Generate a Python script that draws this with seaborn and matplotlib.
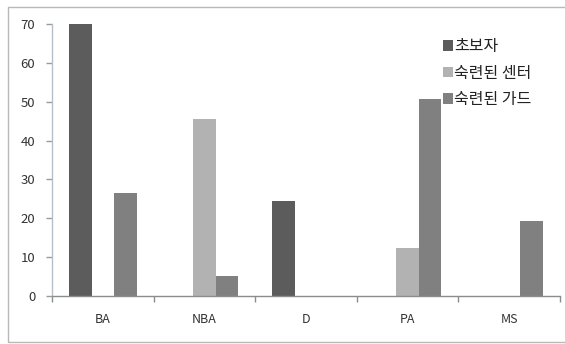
import matplotlib
matplotlib.use("Agg")
import matplotlib.pyplot as plt
from matplotlib.patches import Rectangle
from matplotlib.ticker import FixedLocator
import pandas as pd
import seaborn as sns

categories = ["BA", "NBA", "D", "PA", "MS"]
series_names = ["초보자", "숙련된 센터", "숙련된 가드"]
beginner = [70.0, 0.0, 24.4, 0.0, 0.0]
center = [0.0, 45.5, 0.0, 12.4, 0.0]
guard = [26.6, 5.1, 0.0, 50.7, 19.4]
y_ticks = [0, 10, 20, 30, 40, 50, 60, 70]

colors = ["#5c5c5c", "#b2b2b2", "#808080"]

rows = []
for name, vals in zip(series_names, [beginner, center, guard]):
    for cat, v in zip(categories, vals):
        rows.append({"category": cat, "series": name, "value": v})
df = pd.DataFrame(rows)

sns.set_style("white")
plt.rcParams["font.family"] = ["Noto Sans CJK KR", "DejaVu Sans"]

fig = plt.figure(figsize=(5.65, 3.44), dpi=100)
fig.patch.set_facecolor("white")
ax = fig.add_axes([52 / 565, 48 / 344, 508 / 565, 272 / 344])

sns.barplot(data=df, x="category", y="value", hue="series",
            order=categories, hue_order=series_names,
            palette=colors, width=0.667, gap=0, linewidth=0,
            errorbar=None, ax=ax)

ax.set_xlim(-0.5, 4.5)
ax.set_ylim(0, 70)
ax.set_yticks(y_ticks)
ax.set_xlabel("")
ax.set_ylabel("")

for side in ["top", "right"]:
    ax.spines[side].set_visible(False)
ax.spines["left"].set_color("#b6bec8")
ax.spines["bottom"].set_color("#8c8c8c")
ax.spines["left"].set_linewidth(1)
ax.spines["bottom"].set_linewidth(1)

ax.tick_params(axis="y", length=4, width=1, color="#9a9a9a",
               labelsize=9.5, labelcolor="#333333", pad=8, direction="out", left=True)
ax.tick_params(axis="x", which="major", length=0, labelsize=9,
               labelcolor="#333333", pad=12)
ax.xaxis.set_minor_locator(FixedLocator([-0.5, 0.5, 1.5, 2.5, 3.5, 4.5]))
ax.tick_params(axis="x", which="minor", length=4, width=1, color="#8c8c8c",
               direction="out", bottom=True)

leg = ax.legend(loc="upper left", bbox_to_anchor=(435 / 565, 1 - 30 / 344),
                bbox_transform=fig.transFigure, frameon=False,
                fontsize=11.5, borderpad=0, handlelength=0.62, handleheight=0.62,
                handletextpad=0.08, labelspacing=0.6)
for t in leg.get_texts():
    t.set_color("#222222")

# outer chart border
fig.patches.append(Rectangle((8 / 565, 2 / 344), 1.0, 335 / 344,
                             transform=fig.transFigure, fill=False,
                             edgecolor="#b8b8b8", linewidth=1))

fig.savefig("out.png", dpi=100)
